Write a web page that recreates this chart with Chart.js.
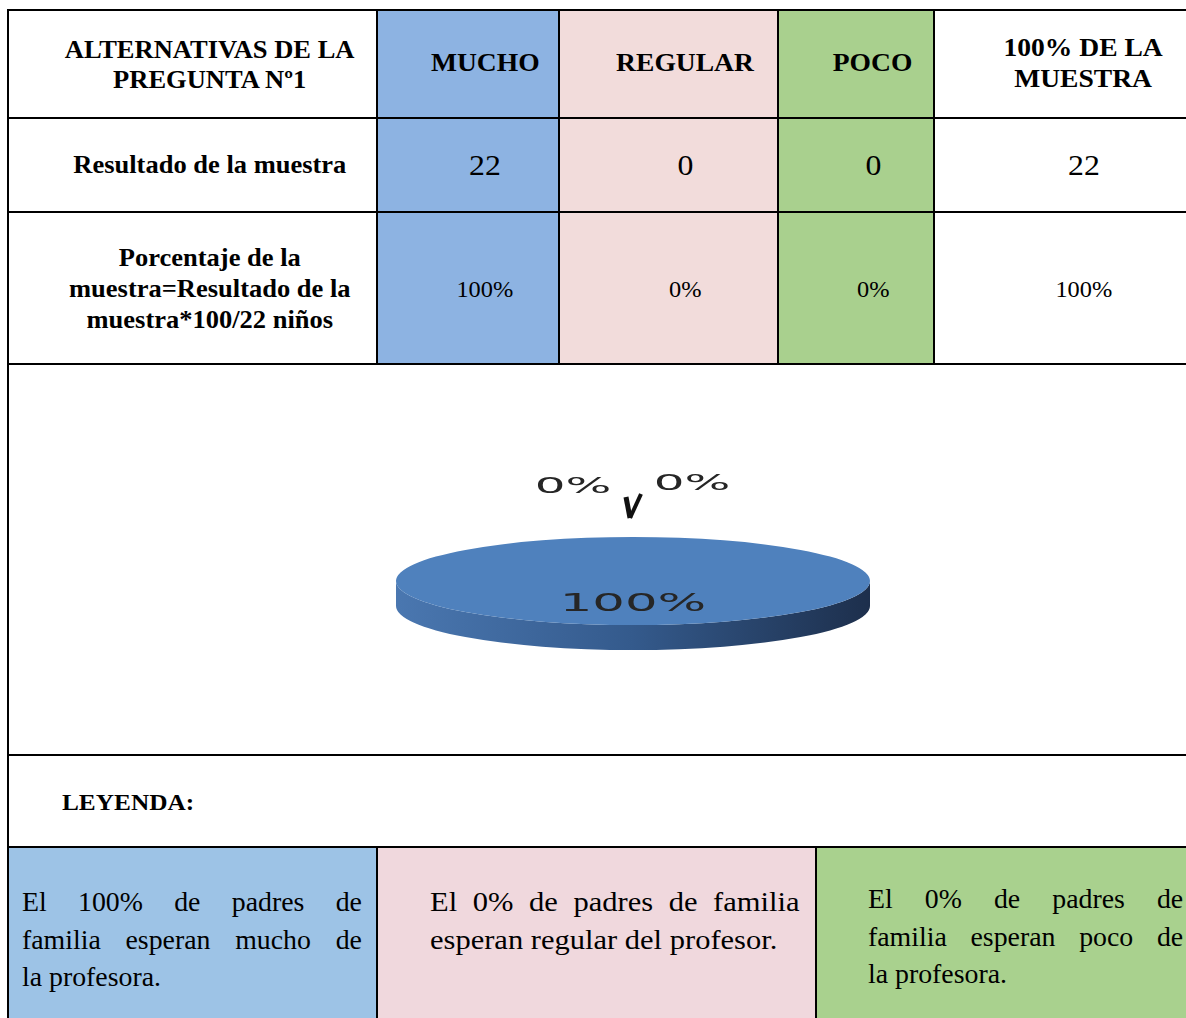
<!DOCTYPE html>
<html lang="es">
<head>
<meta charset="utf-8">
<title>Pregunta Nº1</title>
<script src="https://cdn.jsdelivr.net/npm/chart.js@4.4.1/dist/chart.umd.min.js"></script>
<style>
  html, body { margin: 0; padding: 0; background: #fff; }
  body { position: relative; width: 1186px; height: 1018px; overflow: hidden;
         font-family: "Liberation Serif", "Times New Roman", serif; color: #000; }
  .cell { position: absolute; box-sizing: border-box; display: flex; align-items: center;
          justify-content: center; text-align: center; padding-left: 32px; }
  .hl { position: absolute; height: 2px; background: #000; }
  .vl { position: absolute; width: 2px; background: #000; }
  .sx { display: inline-block; transform: scaleX(1.06); white-space: nowrap; }
  .txt { position: absolute; font-size: 27px; line-height: 37.5px; }
  .txt .in { transform-origin: left top; transform: scaleX(1.03); }
  .txt .j { text-align: justify; text-align-last: justify; white-space: nowrap; }
  #pieBox { position: absolute; left: 0; top: 365px; width: 1186px; height: 389px; }
</style>
</head>
<body>

<div id="tabla"></div>

<div style="position:absolute; left:62px; top:788px; font-weight:bold; font-size:23px; line-height:30px;">
  <span class="sx" style="transform-origin:left center; transform:scaleX(1.1);">LEYENDA:</span>
</div>

<div style="position:absolute; left:9px; top:848px; width:367px; height:170px; background:#9DC3E6;"></div>
<div style="position:absolute; left:378px; top:848px; width:437px; height:170px; background:#F0D8DD;"></div>
<div style="position:absolute; left:817px; top:848px; width:369px; height:170px; background:#A9D18E;"></div>

<div class="txt" style="left:22px; top:884px;">
  <div class="in" style="width:330px;">
    <div class="j">El 100% de padres de</div>
    <div class="j">familia esperan mucho de</div>
    <div>la profesora.</div>
  </div>
</div>
<div class="txt" style="left:430px; top:884px;">
  <div class="in" style="width:327px; transform:scaleX(1.13);">
    <div class="j">El 0% de padres de familia</div>
    <div style="white-space:nowrap;">esperan regular del profesor.</div>
  </div>
</div>
<div class="txt" style="left:868px; top:881px;">
  <div class="in" style="width:306px;">
    <div class="j">El 0% de padres de</div>
    <div class="j">familia esperan poco de</div>
    <div>la profesora.</div>
  </div>
</div>

<div id="pieBox"><canvas id="pie"></canvas></div>

<script>
// datos de la pregunta Nº1
const categorias = ["MUCHO", "REGULAR", "POCO"];
const resultados = [22, 0, 0];
const porcentajes = [100, 0, 0];
const totalMuestra = 22;
const porcentajeTotal = 100;

// tabla
const colX = [9, 378, 560, 779, 935, 1200];
const rowY = [11, 119, 213, 365];
const fondos = ["#fff", "#8DB3E2", "#F2DCDB", "#A9D08E", "#fff"];

const filas = [
  ["ALTERNATIVAS DE LA<br>PREGUNTA Nº1"].concat(categorias, ["100% DE LA<br>MUESTRA"]),
  ["Resultado de la muestra"].concat(resultados, [totalMuestra]),
  ["Porcentaje de la<br>muestra=Resultado de la<br>muestra*100/" + totalMuestra + " niños"]
    .concat(porcentajes.map(p => p + "%"), [porcentajeTotal + "%"])
];
const estilos = [
  ["font-weight:bold;font-size:25px;line-height:30px;padding-top:2px;", "font-weight:bold;font-size:26px;line-height:31px;padding-bottom:3px;"],
  ["font-weight:bold;font-size:25px;line-height:30px;", "font-size:30px;line-height:34px;"],
  ["font-weight:bold;font-size:25px;line-height:31px;", "font-size:23px;line-height:28px;padding-top:3px;"]
];

let html = "";
filas.forEach((fila, r) => {
  fila.forEach((texto, c) => {
    const x0 = colX[c], x1 = colX[c + 1];
    const y0 = rowY[r], y1 = rowY[r + 1] - 2;
    const st = estilos[r][c === 0 ? 0 : 1];
    html += `<div class="cell" style="left:${x0}px;top:${y0}px;width:${x1 - x0}px;height:${y1 - y0}px;background:${fondos[c]};${st}"><span class="sx">${texto}</span></div>`;
  });
});
// líneas
[9, 117, 211, 363, 754, 846].forEach(y => {
  html += `<div class="hl" style="left:7px;top:${y}px;width:1179px;"></div>`;
});
html += `<div class="vl" style="left:7px;top:9px;height:1009px;"></div>`;
[376, 558, 777, 933].forEach(x => {
  html += `<div class="vl" style="left:${x}px;top:9px;height:356px;"></div>`;
});
[376, 815].forEach(x => {
  html += `<div class="vl" style="left:${x}px;top:846px;height:172px;"></div>`;
});
document.getElementById("tabla").innerHTML = html;

// gráfico circular 3D aplanado
const RX = 237, RY = 44, DEPTH = 25;
const colores = ["#4F81BD", "#C0504D", "#9BBB59"];
const ladoClaro = ["#4a77b0", "#b04a47", "#8fad52"];
const ladoMedio = ["#345a8c", "#8a3532", "#6f883f"];
const ladoOscuro = ["#1d2f4c", "#4a1e1c", "#3a4a22"];

const pie3d = {
  id: "pie3d",
  beforeDatasetsDraw(chart) {
    const ctx = chart.ctx;
    const arcs = chart.getDatasetMeta(0).data;
    const cx = arcs[0].x, cy = arcs[0].y, r = arcs[0].outerRadius;
    arcs.forEach((arc, i) => {
      if (!(arc.endAngle - arc.startAngle > 0)) return;
      [[0, Math.PI], [2 * Math.PI, 3 * Math.PI]].forEach(([lo, hi]) => {
        const a = Math.max(arc.startAngle, lo), b = Math.min(arc.endAngle, hi);
        if (b <= a) return;
        const g = ctx.createLinearGradient(cx - RX, 0, cx + RX, 0);
        g.addColorStop(0, ladoClaro[i]);
        g.addColorStop(0.5, ladoMedio[i]);
        g.addColorStop(1, ladoOscuro[i]);
        ctx.beginPath();
        ctx.ellipse(cx, cy, RX, RY, 0, a, b);
        ctx.ellipse(cx, cy + DEPTH, RX, RY, 0, b, a, true);
        ctx.closePath();
        ctx.fillStyle = g;
        ctx.fill();
      });
    });
    ctx.save();
    ctx.translate(cx, cy);
    ctx.scale(RX / r, RY / r);
    ctx.translate(-cx, -cy);
  },
  afterDatasetsDraw(chart) {
    const ctx = chart.ctx;
    ctx.restore();
    const data = chart.data.datasets[0].data;
    const total = data.reduce((s, v) => s + v, 0);
    const arcs = chart.getDatasetMeta(0).data;
    const cx = arcs[0].x, cy = arcs[0].y;
    let ceros = 0;
    ctx.fillStyle = "#262626";
    arcs.forEach((arc, i) => {
      const txt = Math.round(data[i] / total * 100) + "%";
      const mid = (arc.startAngle + arc.endAngle) / 2;
      let x, y, size, sx;
      if (data[i] > 0) {
        x = cx + Math.cos(mid) * RX * 0.5;
        y = cy + Math.sin(mid) * RY * 0.5 + 8;
        size = 25; sx = 2.05;
      } else {
        const ax = cx + Math.cos(mid) * RX, ay = cy + Math.sin(mid) * RY;
        const lado = ceros++ === 0 ? -1 : 1;
        x = ax + (lado < 0 ? -60 : 59);
        y = ay + (lado < 0 ? -44 : -47);
        size = 21; sx = 2.3;
        // línea guía
        ctx.save();
        ctx.strokeStyle = "#111";
        ctx.lineWidth = lado < 0 ? 5 : 4;
        ctx.lineCap = "butt";
        ctx.beginPath();
        ctx.moveTo(ax + (lado < 0 ? -7 : 8), ay + (lado < 0 ? -40 : -43));
        ctx.lineTo(ax - 3, ay - 19);
        ctx.stroke();
        ctx.restore();
      }
      ctx.save();
      ctx.translate(x, y);
      ctx.scale(sx, 1);
      ctx.font = size + 'px "DejaVu Sans"';
      ctx.textAlign = "center";
      ctx.textBaseline = "alphabetic";
      ctx.fillText(txt, 0, 0);
      ctx.restore();
    });
  }
};

new Chart(document.getElementById("pie").getContext("2d"), {
  type: "pie",
  data: {
    labels: categorias,
    datasets: [{
      data: resultados,
      backgroundColor: colores,
      borderWidth: 0,
      clip: false
    }]
  },
  options: {
    responsive: true,
    maintainAspectRatio: false,
    animation: false,
    layout: { padding: { left: 80, top: 43, right: 0, bottom: 0 } },
    plugins: { legend: { display: false }, tooltip: { enabled: false } }
  },
  plugins: [pie3d]
});
</script>
</body>
</html>
